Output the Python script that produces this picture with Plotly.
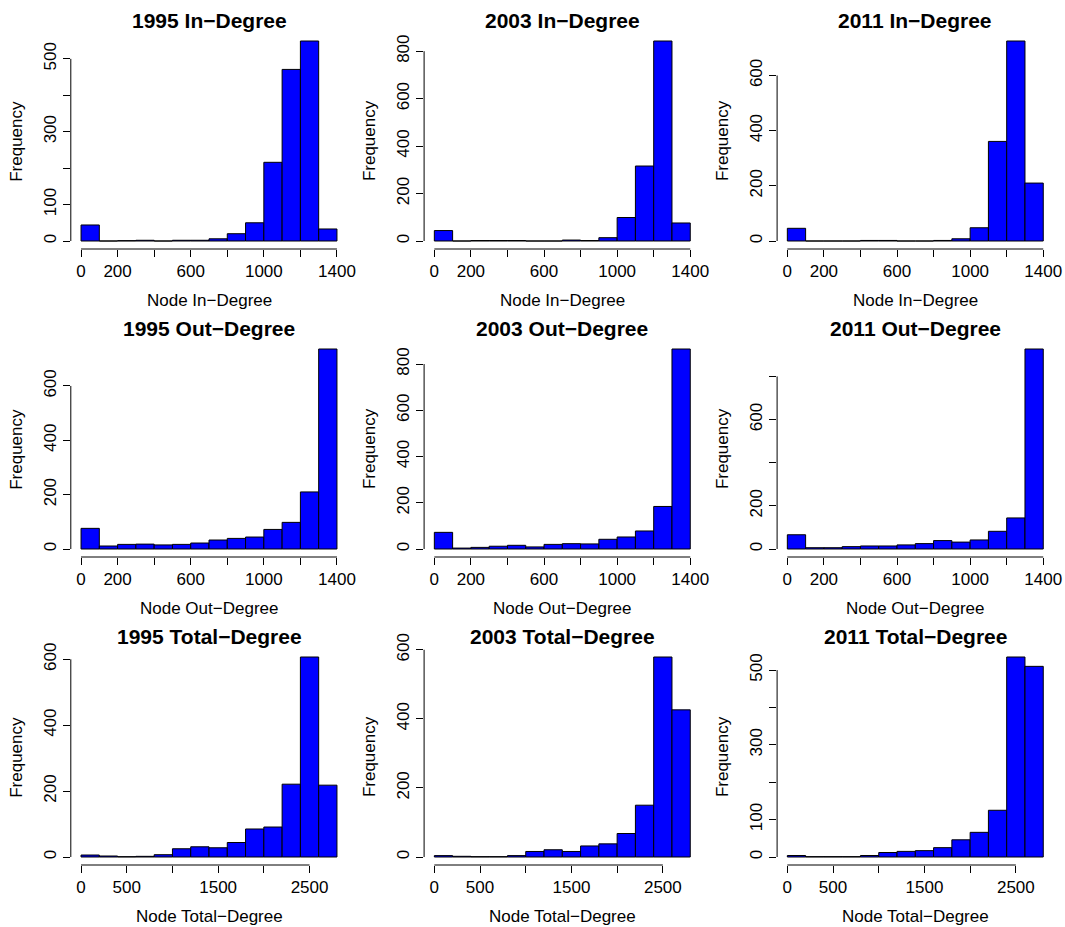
import plotly.graph_objects as go

# ---------------- data ----------------
deg_breaks = [0, 100, 200, 300, 400, 500, 600, 700, 800, 900, 1000, 1100, 1200, 1300, 1400]
tot_breaks = [0, 200, 400, 600, 800, 1000, 1200, 1400, 1600, 1800, 2000, 2200, 2400, 2600, 2800]

in_1995 = [44, 0, 1, 2, 0, 2, 2, 6, 20, 50, 216, 471, 549, 33]
in_2003 = [44, 0, 2, 2, 2, 0, 0, 4, 2, 14, 99, 316, 843, 76]
in_2011 = [46, 0, 0, 0, 2, 2, 0, 0, 2, 8, 48, 361, 725, 210]

out_1995 = [76, 11, 17, 18, 15, 17, 22, 33, 39, 44, 72, 98, 210, 736]
out_2003 = [72, 4, 7, 12, 16, 9, 20, 23, 22, 42, 52, 78, 184, 865]
out_2011 = [66, 6, 6, 11, 14, 14, 19, 25, 39, 32, 42, 82, 144, 927]

tot_1995 = [6, 3, 1, 2, 7, 25, 31, 28, 44, 85, 91, 221, 607, 218]
tot_2003 = [4, 2, 1, 1, 4, 16, 21, 16, 32, 38, 68, 150, 579, 426]
tot_2011 = [4, 1, 1, 1, 4, 12, 15, 17, 25, 46, 66, 125, 535, 510]

titles = [
    "1995 In\u2212Degree", "2003 In\u2212Degree", "2011 In\u2212Degree",
    "1995 Out\u2212Degree", "2003 Out\u2212Degree", "2011 Out\u2212Degree",
    "1995 Total\u2212Degree", "2003 Total\u2212Degree", "2011 Total\u2212Degree",
]
xlabels = ["Node In\u2212Degree", "Node Out\u2212Degree", "Node Total\u2212Degree"]

deg_xticks = [0, 200, 400, 600, 800, 1000, 1200, 1400]
deg_xtext = ["0", "200", "", "600", "", "1000", "", "1400"]
tot_xticks = [0, 500, 1000, 1500, 2000, 2500]
tot_xtext = ["0", "500", "", "1500", "", "2500"]

yticks_list = [
    ([0, 100, 200, 300, 400, 500], ["0", "100", "", "300", "", "500"]),
    ([0, 200, 400, 600, 800], ["0", "200", "400", "600", "800"]),
    ([0, 200, 400, 600], ["0", "200", "400", "600"]),
    ([0, 200, 400, 600], ["0", "200", "400", "600"]),
    ([0, 200, 400, 600, 800], ["0", "200", "400", "600", "800"]),
    ([0, 200, 400, 600, 800], ["0", "200", "", "600", ""]),
    ([0, 200, 400, 600], ["0", "200", "400", "600"]),
    ([0, 200, 400, 600], ["0", "200", "400", "600"]),
    ([0, 100, 200, 300, 400, 500], ["0", "100", "", "300", "", "500"]),
]

counts = [in_1995, in_2003, in_2011, out_1995, out_2003, out_2011, tot_1995, tot_2003, tot_2011]

# ---------------- layout ----------------
W, H = 1065, 927
col_left = [70.8, 424.1, 777.1]
col_w = 276.4
row_top = [33, 341, 649]
row_h = 216

FONT = "Liberation Sans, Arial, Helvetica, sans-serif"
TICK_SIZE = 17
LAB_SIZE = 17
TITLE_SIZE = 21

fig = go.Figure()
layout = dict(
    template="none",
    width=W, height=H, autosize=False,
    margin=dict(l=0, r=0, t=0, b=0, pad=0, autoexpand=False),
    paper_bgcolor="white", plot_bgcolor="white",
    showlegend=False, bargap=0,
    font=dict(family=FONT, color="black"),
)
annotations = []
shapes = []

for i in range(9):
    r, c = divmod(i, 3)
    breaks = tot_breaks if r == 2 else deg_breaks
    xt, xtt = (tot_xticks, tot_xtext) if r == 2 else (deg_xticks, deg_xtext)
    yt, ytt = yticks_list[i]
    vals = counts[i]
    lefts = breaks[:-1]
    widths = [b - a for a, b in zip(breaks[:-1], breaks[1:])]
    xmin, xmax = breaks[0], breaks[-1]
    ymax = max(vals)
    sfx = "" if i == 0 else str(i + 1)
    xa, ya = "x" + sfx, "y" + sfx

    fig.add_trace(go.Bar(
        x=lefts, y=vals, width=widths, offset=0,
        marker=dict(color="#0000FF", line=dict(color="black", width=1)),
        xaxis=xa, yaxis=ya, hoverinfo="x+y",
    ))

    x0 = col_left[c] / W
    x1 = (col_left[c] + col_w) / W
    y1 = 1 - row_top[r] / H
    y0 = 1 - (row_top[r] + row_h) / H
    xspan = xmax - xmin
    layout["xaxis" + sfx] = dict(
        domain=[x0, x1], anchor=ya, automargin=False,
        range=[xmin - 0.04 * xspan, xmax + 0.04 * xspan],
        showgrid=False, zeroline=False, showline=False,
        ticks="outside", ticklen=7, tickwidth=1, tickcolor="black",
        tickvals=xt, ticktext=xtt, ticklabeloverflow="allow",
        tickfont=dict(size=TICK_SIZE, family=FONT, color="black"),
        fixedrange=True,
    )
    layout["yaxis" + sfx] = dict(
        domain=[y0, y1], anchor=xa, automargin=False,
        range=[-0.04 * ymax, 1.04 * ymax],
        showgrid=False, zeroline=False, showline=False,
        ticks="outside", ticklen=7, tickwidth=1, tickcolor="black",
        tickvals=yt, ticktext=ytt, tickangle=-90, ticklabeloverflow="allow",
        tickfont=dict(size=TICK_SIZE, family=FONT, color="black"),
        fixedrange=True,
    )
    # axis lines spanning first to last tick, R-style
    shapes.append(dict(type="line", xref=xa, yref=ya + " domain",
                       x0=xt[0], x1=xt[-1], y0=0, y1=0,
                       line=dict(color="black", width=1)))
    shapes.append(dict(type="line", xref=xa + " domain", yref=ya,
                       x0=0, x1=0, y0=yt[0], y1=yt[-1],
                       line=dict(color="black", width=1)))
    # title
    annotations.append(dict(text="<b>" + titles[i] + "</b>", xref=xa + " domain", yref=ya + " domain",
                            x=0.5, y=1, xanchor="center", yanchor="middle", yshift=13,
                            showarrow=False, font=dict(size=TITLE_SIZE, family=FONT, color="black")))
    # x label
    annotations.append(dict(text=xlabels[r], xref=xa + " domain", yref=ya + " domain",
                            x=0.5, y=0, xanchor="center", yanchor="middle", yshift=-51,
                            showarrow=False, font=dict(size=LAB_SIZE, family=FONT, color="black")))
    # y label
    annotations.append(dict(text="Frequency", xref=xa + " domain", yref=ya + " domain",
                            x=0, y=0.5, xanchor="center", yanchor="middle", xshift=-55,
                            textangle=-90,
                            showarrow=False, font=dict(size=LAB_SIZE, family=FONT, color="black")))

layout["annotations"] = annotations
layout["shapes"] = shapes
fig.update_layout(**layout)
fig.write_html(
    "out.html",
    config={"displayModeBar": False, "staticPlot": True},
    post_script="document.body.style.margin='0';document.documentElement.style.overflow='hidden';",
)
